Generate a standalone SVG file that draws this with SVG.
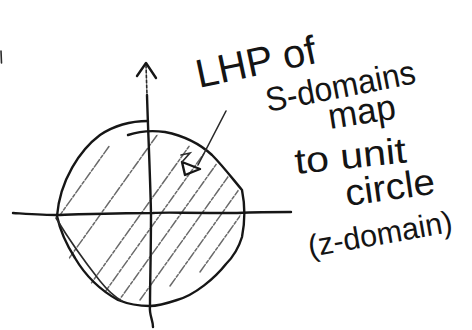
<svg xmlns="http://www.w3.org/2000/svg" width="472" height="330" viewBox="0 0 472 330">
<style>
.ink{fill:none;stroke:#161616;stroke-width:2.4;stroke-linecap:round;stroke-linejoin:round}
.thin{fill:none;stroke:#2a2a2a;stroke-width:1.6;stroke-linecap:round}
.hatch{fill:none;stroke:#6a6a6a;stroke-width:1.5;stroke-dasharray:9 2 3 2;stroke-linecap:round}
.lbl{font-family:"Liberation Sans",Arial,sans-serif;fill:#141414}
</style>
<defs>
<clipPath id="blob">
<path d="M60,216 C60,175 95,135 150,134 C185,135 215,155 239,191 C242,215 241,240 228,260 C210,285 180,302 150,303 C115,303 85,285 70,260 C62,245 60,230 60,216 Z"/>
</clipPath>
</defs>
<rect width="472" height="330" fill="#ffffff"/>
<g id="hatching" clip-path="url(#blob)">
<line class="hatch" x1="20" y1="271" x2="110" y2="145"/>
<line class="hatch" x1="40" y1="299" x2="160" y2="131"/>
<line class="hatch" x1="60" y1="327" x2="190" y2="145"/>
<line class="hatch" x1="85" y1="320" x2="215" y2="138"/>
<line class="hatch" x1="115" y1="306" x2="240" y2="131"/>
<line class="hatch" x1="140" y1="300" x2="260" y2="132"/>
<line class="hatch" x1="170" y1="286" x2="270" y2="146"/>
<line class="hatch" x1="200" y1="272" x2="280" y2="160"/>
</g>
<g id="circle">
<path class="ink" d="M57,216 C60,180 80,150 100,135 C115,125 132,121 148,121"/>
<path class="ink" d="M128,135 C140,131 150,130 165,132 C185,136 200,144 212,155 C222,165 232,178 242,190 C245,205 245,222 242,237 C238,250 232,258 226,264 C215,278 195,295 177,300 C165,304 157,306 150,306 C138,306 128,304 118,300 C100,290 85,275 75,258 C66,244 60,230 57,216"/>
<path class="thin" d="M56,218 C68,238 85,262 100,281 C108,291 115,297 122,301"/>
</g>
<g id="axes">
<path class="ink" d="M147,95 C148,130 150,170 151,213 C151,250 150,285 150,306 C149,315 153,320 153,327"/>
<path class="thin" d="M146,65 L147,95" stroke-dasharray="3 2"/>
<path class="ink" d="M137,76 L146,63 L156,78"/>
<path class="ink" d="M13,213 C30,214 45,215 57,215 C90,214 120,213 153,213 C165,212 175,213 237,213 C260,212 275,212 291,212"/>
</g>
<g id="pointer">
<path class="thin" d="M226,111 L198,165"/>
<path class="ink" d="M182,162 L200,169 L185,175 Z"/>
<path class="thin" d="M181,155 L190,153 L182,162"/>
</g>
<g id="edge-mark">
<path class="thin" d="M1,51 L1.5,63"/>
</g>
<g id="labels">
<text class="lbl" font-size="40" transform="translate(199,88) rotate(-12)" textLength="122" lengthAdjust="spacingAndGlyphs">LHP of</text>
<text class="lbl" font-size="34" transform="translate(268,112) rotate(-11)" textLength="152" lengthAdjust="spacingAndGlyphs">S-domains</text>
<text class="lbl" font-size="36" transform="translate(330,129) rotate(-9)" textLength="68" lengthAdjust="spacingAndGlyphs">map</text>
<text class="lbl" font-size="36" transform="translate(296,174) rotate(-6)" textLength="112" lengthAdjust="spacingAndGlyphs">to unit</text>
<text class="lbl" font-size="37" transform="translate(347,206) rotate(-8)" textLength="90" lengthAdjust="spacingAndGlyphs">circle</text>
<text class="lbl" font-size="31" transform="translate(310,257) rotate(-10)" textLength="146" lengthAdjust="spacingAndGlyphs">(z-domain)</text>
</g>
</svg>
